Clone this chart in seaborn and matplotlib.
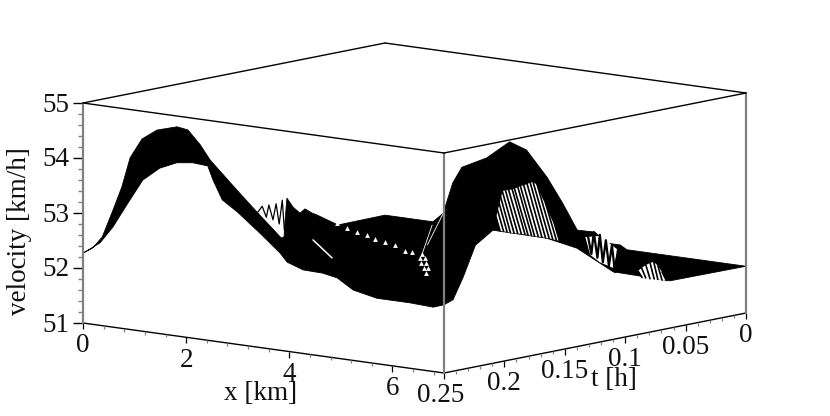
import numpy as np
import pandas as pd
import matplotlib
matplotlib.use("Agg")
import matplotlib.pyplot as plt
import seaborn as sns

# ---------- axis values ----------
x_max, t_max, v_min, v_max = 7.0, 0.25, 51.0, 55.0
x_tick_labels = ["0", "2", "4", "6"]
x_major = [0, 2, 4, 6]
t_tick_labels = ["0.25", "0.2", "0.15", "0.1", "0.05", "0"]
t_major = [0.25, 0.2, 0.15, 0.1, 0.05, 0.0]
v_major = [51, 52, 53, 54, 55]
x_label, t_label, v_label = "x [km]", "t [h]", "velocity [km/h]"

# ---------- surface edges (km, h, km/h) ----------
# profile at t = 0.25
front_x = [0, .33, .58, .85, 1.16, 1.49, 1.82, 2.13, 2.42, 2.52, 2.70, 2.99, 3.43, 3.82, 3.96, 4.27, 4.65, 4.93, 5.24, 5.70, 6.34, 6.79, 7.0]
front_v = [52.27, 52.50, 52.82, 53.26, 53.75, 54.01, 54.15, 54.19, 54.17, 53.93, 53.59, 53.41, 53.08, 52.77, 52.62, 52.52, 52.51, 52.46, 52.28, 52.19, 52.19, 52.17, 52.24]
# crest of the first wave, near t = 0.24
crest_x = [.14, .35, .52, .68, .91, 1.20, 1.59, 1.80, 2.04, 2.23, 2.75, 3.14, 3.61, 3.665, 3.68, 3.72, 3.84, 3.975, 4.07, 4.21, 4.30, 4.71]
crest_v = [52.54, 53.06, 53.50, 54.05, 54.42, 54.62, 54.73, 54.70, 54.46, 54.21, 53.73, 53.38, 52.97, 53.00, 53.25, 53.71, 53.56, 53.47, 53.56, 53.50, 53.48, 53.35]
# crest of the second wave, near x = 6
ridge_t = [.208, .20, .1925, .172, .153, .139, .122, .109, .097]
ridge_v = [53.59, 54.11, 54.36, 54.44, 54.65, 54.44, 53.87, 53.34, 52.80]
# profile at t = 0
start_x = [0, .93, 4.07, 4.30, 4.56, 4.69, 7.0]
start_v = [51.87, 51.87, 52.09, 51.92, 51.92, 51.85, 51.85]
# edge at x = 7
end_t = [.063, .11, .14, .165, .2095, .224, .234, .2425]
end_v = [51.86, 52.23, 52.79, 53.08, 53.42, 53.21, 52.68, 52.30]

# ---------- open mesh: t-lines seen near x = 7 ----------
hatch_t = [.2036, .2007, .1978, .195, .192, .189, .186, .183, .1805, .1775, .175, .172, .169, .166, .163, .160, .157, .1545]
hatch_v_edge = [53.38, 53.36, 53.34, 53.31, 53.29, 53.27, 53.25, 53.23, 53.21, 53.18, 53.16, 53.14, 53.12, 53.09, 53.07, 53.04, 53.01, 52.99]
hatch_x_top = [6.915, 6.878, 6.843, 6.806, 6.767, 6.758, 6.75, 6.748, 6.734, 6.73, 6.72, 6.715, 6.71, 6.70, 6.684, 6.694, 6.79, 6.895]
hatch_v_top = [53.65, 53.75, 53.85, 53.95, 54.04, 54.04, 54.03, 54.03, 54.03, 54.04, 54.05, 54.05, 54.06, 54.07, 54.07, 54.01, 53.66, 53.31]

low_t = [.086, .083, .0795, .076, .073, .0695, .066]
low_v_edge = [52.02, 52.00, 51.97, 51.95, 51.93, 51.90, 51.88]
low_v_top = [52.13, 52.17, 52.21, 52.23, 52.24, 52.15, 52.02]

# ---------- rough zones of the mesh ----------
patch_t = [.133, .121, .106, .11, .121, .129]
patch_v = [52.96, 52.93, 52.61, 52.30, 52.45, 52.62]
zig_t = [.131, .128, .126, .123, .121, .1185, .116, .1135, .111, .1085, .106]
zig_v = [52.99, 52.63, 53.02, 52.54, 52.95, 52.44, 52.83, 52.35, 52.72, 52.22, 52.61]
spike_x = [3.14, 3.24, 3.32, 3.37, 3.45, 3.51, 3.57, 3.63, 3.67]
spike_v = [53.36, 53.50, 53.31, 53.54, 53.28, 53.58, 53.22, 53.66, 53.12]
gap_x = [4.93, 5.12, 5.31, 5.51, 5.66, 5.86, 6.05, 6.24, 6.38, 6.57, 6.53, 6.63, 6.55, 6.65, 6.61, 6.69, 6.65]
gap_v = [53.46, 53.39, 53.34, 53.31, 53.26, 53.23, 53.20, 53.12, 53.12, 53.11, 53.03, 53.04, 52.94, 52.95, 52.86, 52.87, 52.77]
streak_x = [4.46, 4.83]
streak_v = [53.09, 52.81]
seam1_x = [6.57, 6.77]
seam1_v = [53.09, 53.66]
seam2_x = [6.68, 7.0]
seam2_v = [53.29, 53.93]


def proj(x, t, v):
    """Parallel projection of the box (x, t, velocity) on the page."""
    x, t, v = np.asarray(x, float), np.asarray(t, float), np.asarray(v, float)
    s = (t_max - t) / t_max
    return 83 + 361 * x / x_max + 302 * s, 323 + 50 * x / x_max - 60 * s - 55 * (v - v_min)


def full(a, ref):
    return np.full(len(ref), a, float)


sns.set_theme(style="white")
plt.rcParams["font.family"] = ["Liberation Serif", "DejaVu Serif"]
fig = plt.figure(figsize=(8.30, 4.16), dpi=100)
ax = fig.add_axes([0, 0, 1, 1])
ax.set_xlim(0, 830)
ax.set_ylim(416, 0)
ax.axis("off")


def seg(x, t, v, color="black", lw=1.0, z=3):
    px, py = proj(x, t, v)
    df = pd.DataFrame({"px": px, "py": py})
    sns.lineplot(data=df, x="px", y="py", sort=False, estimator=None, color=color,
                 linewidth=lw, ax=ax, zorder=z, legend=False)


# back walls behind the surface, then the box
GREY = "#808080"
corners = [(0, .25), (7, .25), (7, 0), (0, 0)]
for (x0, t0), (x1, t1) in [(corners[0], corners[1]), (corners[1], corners[2])]:
    seg([x0, x1], [t0, t1], [v_min, v_min], lw=1.0, z=2)
for i in range(4):
    (x0, t0), (x1, t1) = corners[i], corners[(i + 1) % 4]
    seg([x0, x1], [t0, t1], [v_max, v_max], lw=1.0, z=6)
for x0, t0 in corners[:3]:
    seg([x0, x0], [t0, t0], [v_min, v_max], color=GREY, lw=1.6, z=5)

# surface outline: everything here is solid mesh
out = [
    proj(front_x[:1], [.25], front_v[:1]),
    proj([.19], [.25], [52.39]),
    proj(crest_x, full(.24, crest_x), crest_v),
    proj([0], [0], [51.87]),
    proj(start_x[1:2], [0], start_v[1:2]),
    proj(full(6, ridge_t), ridge_t, ridge_v),
    proj(start_x[2:], full(0, start_x[2:]), start_v[2:]),
    proj(full(7, end_t), end_t, end_v),
    proj(front_x[::-1], full(.25, front_x), front_v[::-1]),
]
ox = np.concatenate([np.atleast_1d(a[0]) for a in out])
oy = np.concatenate([np.atleast_1d(a[1]) for a in out])
ax.fill(ox, oy, color="black", lw=0.6, zorder=3)

# open mesh by the x = 7 edge
bx, by = proj(full(7, hatch_t), hatch_t, hatch_v_edge)
tx, ty = proj(hatch_x_top, hatch_t, hatch_v_top)
ax.fill(np.r_[bx, tx[::-1]], np.r_[by, ty[::-1]], color="white", lw=0, zorder=3.2)
rows = pd.DataFrame({"px": np.c_[bx, tx].ravel(), "py": np.c_[by, ty].ravel(),
                     "row": np.repeat(np.arange(len(hatch_t)), 2)})
sns.lineplot(data=rows, x="px", y="py", units="row", estimator=None, sort=False,
             color="black", linewidth=1.2, ax=ax, zorder=3.4, legend=False)
seg(np.r_[hatch_x_top], hatch_t, hatch_v_top, lw=1.2, z=3.4)

bx, by = proj(full(7, low_t), low_t, low_v_edge)
tx, ty = proj(full(6.92, low_t), low_t, low_v_top)
ax.fill(np.r_[bx, tx[::-1]], np.r_[by, ty[::-1]], color="white", lw=0, zorder=3.2)
rows = pd.DataFrame({"px": np.c_[bx, tx].ravel(), "py": np.c_[by, ty].ravel(),
                     "row": np.repeat(np.arange(len(low_t)), 2)})
sns.lineplot(data=rows, x="px", y="py", units="row", estimator=None, sort=False,
             color="black", linewidth=1.2, ax=ax, zorder=3.4, legend=False)

# rough zones
px, py = proj(full(7, patch_t), patch_t, patch_v)
ax.fill(px, py, color="white", lw=0, zorder=3.2)
seg(full(7, zig_t), zig_t, zig_v, lw=1.6, z=3.4)
seg(spike_x, full(.24, spike_x), spike_v, lw=0.9, z=3.4)

gx, gy = proj(gap_x, full(.25, gap_x), gap_v)
sns.scatterplot(x=gx, y=gy, color="white", marker="^", s=12, linewidth=0, ax=ax, zorder=3.6, legend=False)
seg(streak_x, full(.25, streak_x), streak_v, color="white", lw=1.1, z=3.6)
seg(seam1_x, full(.25, seam1_x), seam1_v, color="white", lw=0.6, z=3.6)
seg(seam2_x, full(.25, seam2_x), seam2_v, color="white", lw=0.6, z=3.6)


def tick(px, py, dx, dy, color, lw=0.9):
    ax.plot([px, px + dx], [py, py + dy], color=color, lw=lw, zorder=2, solid_capstyle="butt")


# ticks and labels
for v in np.arange(51, 55.01, 0.2):
    px, py = proj(0, .25, v)
    major = abs(v - round(v)) < 1e-6
    tick(px, py, -10 if major else -5, 0, "black" if major else GREY, 1.0)
for x in np.arange(0, 7.01, 0.4):
    px, py = proj(x, .25, v_min)
    major = min(abs(x - m) for m in x_major) < 1e-6
    tick(px, py, 0, 6 if major else 3, "black" if major else GREY)
for t in np.arange(0, .2501, 0.01):
    px, py = proj(7, t, v_min)
    major = min(abs(t - m) for m in t_major) < 1e-6
    tick(px, py, 0, 6 if major else 3, "black" if major else GREY)

FS = 19.5
for lab, v in zip(map(str, v_major), v_major):
    px, py = proj(0, .25, v)
    ax.text(px - 14, py + 2, lab, ha="right", va="center", fontsize=FS, color="#111111")
for lab, x in zip(x_tick_labels, x_major):
    px, py = proj(x, .25, v_min)
    ax.text(px, py + 23, lab, ha="center", va="center", fontsize=FS, color="#111111")
for lab, t in zip(t_tick_labels, t_major):
    px, py = proj(7, t, v_min)
    ax.text(px - (3 if t == .25 else 0), py + 22, lab, ha="center", va="center", fontsize=FS, color="#111111")
ax.text(261, 394, x_label, ha="center", va="center", fontsize=FS, color="#111111")
ax.text(614, 380, t_label, ha="center", va="center", fontsize=FS, color="#111111")
ax.text(19, 231, v_label, ha="center", va="center", rotation=90, fontsize=FS, color="#111111")

fig.savefig("out.png", dpi=100)
